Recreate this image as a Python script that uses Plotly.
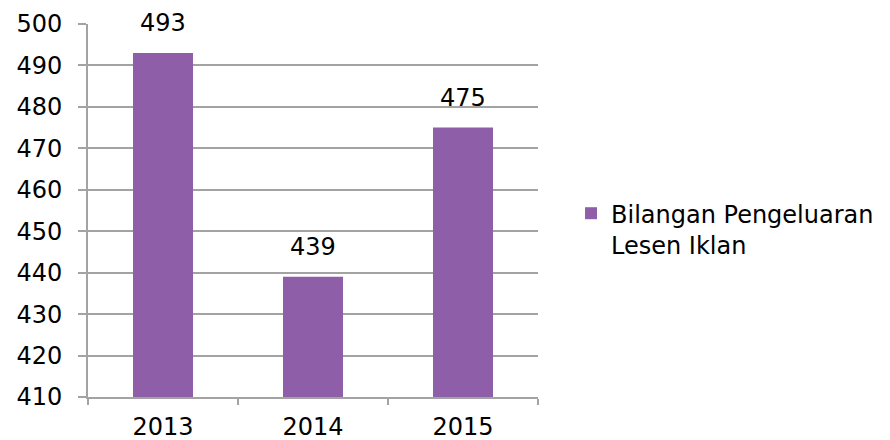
import plotly.graph_objects as go

years = ["2013", "2014", "2015"]
values = [493, 439, 475]
series_name = "Bilangan Pengeluaran<br>Lesen Iklan"
y_ticks = [410, 420, 430, 440, 450, 460, 470, 480, 490, 500]

bar_color = "#8E5EA9"
grid_color = "#A3A3A3"
font_family = "DejaVu Sans"
font_size = 24

fig = go.Figure()
fig.add_trace(go.Bar(
    x=years, y=values, name=series_name,
    marker=dict(color=bar_color, line=dict(width=0)),
    width=0.4, showlegend=True, cliponaxis=False,
))

for i, v in enumerate(values):
    fig.add_annotation(x=i, y=v, text=str(v), showarrow=False,
                       xref="x", yref="y",
                       yanchor="bottom", yshift=14,
                       font=dict(family=font_family, size=font_size, color="#000000"))

fig.update_layout(
    width=882, height=432,
    margin=dict(l=80, r=352, t=16, b=43, autoexpand=False),
    paper_bgcolor="white", plot_bgcolor="white",
    font=dict(family=font_family, size=font_size, color="#000000"),
    legend=dict(x=1.0734, y=0.552, xanchor="left", yanchor="top",
                valign="top", font=dict(size=font_size),
                itemwidth=30, bgcolor="rgba(0,0,0,0)"),
    xaxis=dict(type="category", categoryorder="array", categoryarray=years,
               range=[-0.5, 2.5], tickson="boundaries", ticks="outside",
               ticklen=6, tickcolor=grid_color, tickwidth=2,
               showline=True, linecolor=grid_color, linewidth=2,
               showgrid=False, ticklabelstandoff=7, automargin=False),
    yaxis=dict(range=[410, 500], tickvals=y_ticks, ticks="outside",
               ticklen=8, tickcolor=grid_color, tickwidth=2,
               showline=True, linecolor=grid_color, linewidth=2,
               showgrid=True, gridcolor=grid_color, gridwidth=2,
               zeroline=False, ticklabelstandoff=11, automargin=False),
)

fig.write_html("out.html")
